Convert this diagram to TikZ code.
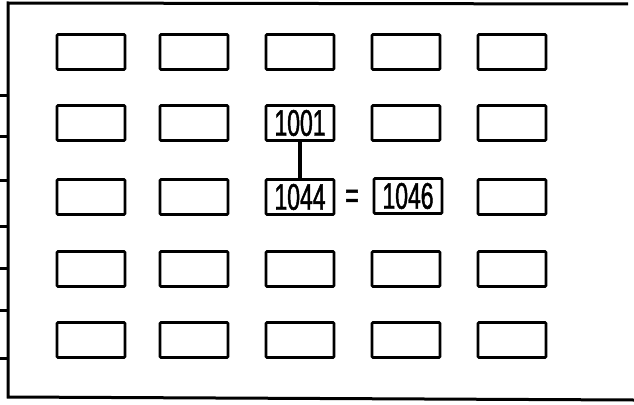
\documentclass[tikz,border=0pt]{standalone}
\usepackage{fontspec}
\newfontfamily\handfont[FakeStretch=0.62,FakeBold=1.2]{Liberation Sans}
\usetikzlibrary{positioning}

\tikzset{
  cell/.style={draw, line width=2.8pt, rounded corners=1pt, minimum width=68pt, minimum height=35pt, inner sep=0pt},
  cellnum/.style={cell, font=\handfont\fontsize{37}{37}\selectfont},
  frame/.style={line width=3pt}
}

\begin{document}
\begin{tikzpicture}[x=1pt,y=-1pt]
\useasboundingbox (0,0) rectangle (634,404);
% open frame with ticks on the left
\draw[frame] (628,4) -- (8,3) -- (8,397) -- (634,400);
\draw[frame] (0,95) -- (8,95);
\draw[frame] (0,136) -- (8,136);
\draw[frame] (0,180) -- (8,180);
\draw[frame] (0,226) -- (8,226);
\draw[frame] (0,268) -- (8,268);
\draw[frame] (0,310) -- (8,310);
\draw[frame] (0,358) -- (8,358);
% row 1
\node[cell] (r1c1) at (91,52) {};
\node[cell] (r1c2) at (194,52) {};
\node[cell] (r1c3) at (300,52) {};
\node[cell] (r1c4) at (406,52) {};
\node[cell] (r1c5) at (512,52) {};
% row 2
\node[cell] (r2c1) at (91,123) {};
\node[cell] (r2c2) at (194,123) {};
\node[cellnum] (n1001) at (300,123) {1001};
\node[cell] (r2c4) at (406,123) {};
\node[cell] (r2c5) at (512,123) {};
% row 3
\node[cell] (r3c1) at (91,197) {};
\node[cell] (r3c2) at (194,197) {};
\node[cellnum] (n1044) at (300,197) {1044};
\node[cellnum] (n1046) at (408,196) {1046};
\node[cell] (r3c5) at (512,197) {};
\node[font=\handfont\fontsize{37}{37}\selectfont] (eq) at (352,199) {=};
% row 4
\node[cell] (r4c1) at (91,269) {};
\node[cell] (r4c2) at (194,269) {};
\node[cell] (r4c3) at (300,269) {};
\node[cell] (r4c4) at (406,269) {};
\node[cell] (r4c5) at (512,269) {};
% row 5
\node[cell] (r5c1) at (91,340) {};
\node[cell] (r5c2) at (194,340) {};
\node[cell] (r5c3) at (300,340) {};
\node[cell] (r5c4) at (406,340) {};
\node[cell] (r5c5) at (512,340) {};
% link
\draw[line width=3.5pt] (n1001.south) -- (n1044.north);
\end{tikzpicture}
\end{document}
